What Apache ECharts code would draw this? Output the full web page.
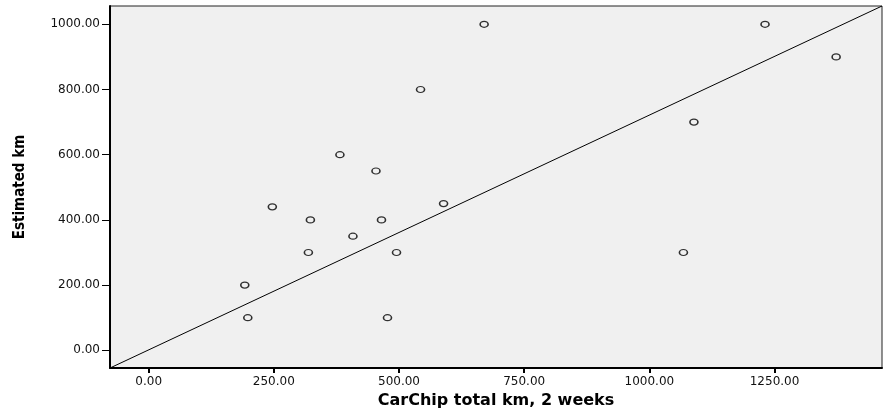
<!DOCTYPE html>
<html>
<head>
<meta charset="utf-8">
<script src="https://cdn.jsdelivr.net/npm/echarts@6/dist/echarts.min.js"></script>
<style>html,body{margin:0;padding:0;background:#fff}#c{width:883px;height:410px}</style>
</head>
<body>
<div id="c"></div>
<script>
const carchipKm = [670, 543, 382, 454, 247, 323, 465, 589, 408, 319, 495, 192, 198, 477, 1231, 1373, 1089, 1068];
const estimatedKm = [1000, 800, 600, 550, 440, 400, 400, 450, 350, 300, 300, 200, 100, 100, 1000, 900, 700, 300];
const xTicks = [0, 250, 500, 750, 1000, 1250];
const yTicks = [0, 200, 400, 600, 800, 1000];
const xRange = [-77.2, 1464.6];
const yRange = [-54.3, 1056.2];
const refLineX = [-77.2, 1464.6];
const refLineY = [-54.3, 1056.2];

const chart = echarts.init(document.getElementById('c'), null, {renderer: 'canvas'});
const labelFont = {fontFamily: '"DejaVu Sans", sans-serif', fontSize: 12, color: '#111'};
chart.setOption({
  animation: false,
  backgroundColor: '#fff',
  grid: {left: 110, right: 1, top: 6, bottom: 42, containLabel: false, outerBoundsMode: 'none',
         show: true, backgroundColor: '#f0f0f0', borderColor: '#222', borderWidth: 1},
  xAxis: {
    type: 'value', min: xRange[0], max: xRange[1],
    name: 'CarChip total km, 2 weeks', nameLocation: 'middle', nameGap: 23,
    nameTextStyle: {fontFamily: '"DejaVu Sans", sans-serif', fontWeight: 'bold', fontSize: 16, color: '#000'},
    axisLine: {show: true, onZero: false, lineStyle: {color: '#000', width: 2}},
    axisTick: {show: true, length: 5, customValues: xTicks, lineStyle: {color: '#000', width: 2}},
    axisLabel: Object.assign({customValues: xTicks, margin: 8, formatter: v => v.toFixed(2)}, labelFont),
    splitLine: {show: false}
  },
  yAxis: {
    type: 'value', min: yRange[0], max: yRange[1],
    name: 'Estimated km', nameLocation: 'middle', nameGap: 82, nameRotate: 90,
    nameTextStyle: {fontFamily: '"Liberation Sans Narrow", "DejaVu Sans Condensed", sans-serif', fontWeight: 'bold', fontSize: 15, color: '#000'},
    axisLine: {show: true, onZero: false, lineStyle: {color: '#000', width: 2}},
    axisTick: {show: true, length: 8, customValues: yTicks, lineStyle: {color: '#000', width: 1}},
    axisLabel: Object.assign({customValues: yTicks, margin: 10, formatter: v => v.toFixed(2)}, labelFont),
    splitLine: {show: false}
  },
  series: [
    {
      type: 'line',
      data: refLineX.map((x, i) => [x, refLineY[i]]),
      showSymbol: false, symbol: 'none',
      lineStyle: {color: '#000', width: 1},
      z: 2, silent: true
    },
    {
      type: 'scatter',
      data: carchipKm.map((x, i) => [x, estimatedKm[i]]),
      symbol: 'circle', symbolSize: [8, 6],
      itemStyle: {color: 'rgba(0,0,0,0)', borderColor: '#000', borderWidth: 1.4},
      z: 3
    }
  ]
});
</script>
</body>
</html>
